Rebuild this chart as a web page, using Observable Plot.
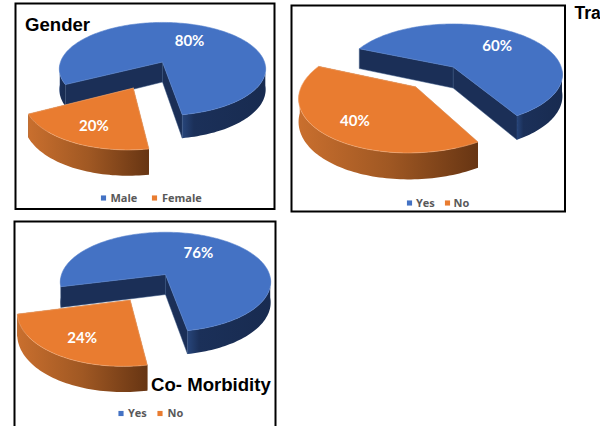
<!DOCTYPE html>
<html>
<head>
<meta charset="utf-8">
<script src="https://cdn.jsdelivr.net/npm/d3@7"></script>
<script src="https://cdn.jsdelivr.net/npm/@observablehq/plot@0.6"></script>
<style>
html,body{margin:0;padding:0;background:#fff;overflow:hidden}
#page{position:relative;width:600px;height:426px;overflow:hidden;background:#fff}
#page>div.c{position:absolute}
.t{position:absolute;font:bold 18.6px "Liberation Sans",Arial,sans-serif;color:#000;white-space:nowrap;line-height:1}
</style>
</head>
<body>
<div id="page"></div>
<script>
// ---- data ----
const genderLabels = ["Male", "Female"];
const genderValues = [80, 20];
const travelLabels = ["Yes", "No"];
const travelValues = [60, 40];
const morbidityLabels = ["Yes", "No"];
const morbidityValues = [76, 24];

// ---- layout / style ----
const colors = {top: ["#4472c4", "#e97c30"], rim: ["#5a84ce", "#f2ab78"], wall: ["#1b2f57", "#7a4216"]};
const K = 0.15; // perspective strength of the tilted disc
const charts = [
  {id: "g", labels: genderLabels, values: genderValues,
   frame: [15, 2.5, 274, 208], apex: [162, 61], rx: 102, ry: 45.5, depth: 20, start: 152.5, explode: 0.59, outerScale: 0.97,
   labelR: [0.62, 0.68], legendY: 197, legendX: [[103, 110], [154, 161.5]]},
  {id: "t", labels: travelLabels, values: travelValues,
   frame: [291, 4.5, 564.5, 210.5], apex: [452.7, 66], rx: 108, ry: 49.5, depth: 21, start: 203, explode: 0.5, outerScale: 1,
   labelR: [0.65, 0.71], legendY: 202, legendX: [[409, 415.5], [447, 453]]},
  {id: "m", labels: morbidityLabels, values: morbidityValues,
   frame: [14, 221, 275, 440], apex: [165, 274], rx: 104, ry: 48.6, depth: 20, start: 166, explode: 0.58, outerScale: 0.985,
   labelR: [0.61, 0.68], legendY: 413, legendX: [[120.5, 127.5], [159.5, 167]]}
];
const titles = [
  {text: "Gender", left: 25, top: 16},
  {text: "Tra", left: 574.5, top: 5, size: 17.5},
  {text: "Co- Morbidity", left: 151, top: 376}
];

const rad = d => d * Math.PI / 180;
// project a point of the unit disc into the tilted view
function proj(X, Y, down = 0) {
  const w = 1 - K * Y;
  return {x: X / w, y: Y / w + down / w};
}
function arcAngles(a, b) {
  const out = [], n = Math.max(2, Math.ceil((b - a) / 1.5));
  for (let i = 0; i <= n; i++) out.push(a + (b - a) * i / n);
  return out;
}

function drawChart(c, host) {
  const [l, t, r, b] = c.frame;
  const pad = 2;
  const W = r - l + pad * 2, H = b - t + pad * 2;
  const down = c.depth / c.ry;
  const total = d3.sum(c.values);
  let ang = c.start;
  const marks = [];
  const walls = [], sides = [], tops = [], labelRows = [];

  c.values.forEach((v, i) => {
    const sweep = v / total * 360;
    const a = ang, e = ang + sweep, mid = a + sweep / 2;
    ang = e;
    const ox = i === 0 ? 0 : c.explode * Math.cos(rad(mid));
    const oy = i === 0 ? 0 : c.explode * Math.sin(rad(mid));
    const s = i === 0 ? 1 : c.outerScale;
    const P = (th, dn = 0) => proj(ox + s * Math.cos(rad(th)), oy + s * Math.sin(rad(th)), dn);
    const O = (dn = 0) => proj(ox, oy, dn);

    // radial walls
    [a, e].forEach(th => walls.push({i, pts: [O(), P(th), P(th, down), O(down)]}));

    // outer rim: only the runs that face the viewer
    let run = [];
    const flush = () => {
      if (run.length > 1) {
        sides.push({i, pts: [...run.map(th => P(th)), ...run.slice().reverse().map(th => P(th, down))]});
      }
      run = [];
    };
    arcAngles(a, e).forEach(th => {
      if (Math.sin(rad(th)) > 0.05) run.push(th); else flush();
    });
    flush();

    // top face
    tops.push({i, pts: [O(), ...arcAngles(a, e).map(th => P(th))]});

    // percentage label
    const lr = c.labelR[i];
    const lp = proj(ox + lr * Math.cos(rad(mid)), oy + lr * Math.sin(rad(mid)));
    labelRows.push({x: lp.x, y: lp.y, text: v + "%"});
  });

  // gradients for the rims
  const defsMark = () => {
    const d = d3.create("svg:defs");
    const add = (id, stops) => {
      const g = d.append("linearGradient").attr("id", id).attr("x1", 0).attr("x2", 1).attr("y1", 0).attr("y2", 0);
      stops.forEach(([o, col]) => g.append("stop").attr("offset", o).attr("stop-color", col));
    };
    add(c.id + "g0", [[0, "#27457a"], [0.14, "#1b3059"], [1, "#182b50"]]);
    add(c.id + "g1", [[0, "#c96f2e"], [0.5, "#a05823"], [1, "#673513"]]);
    return d.node();
  };
  marks.push(defsMark);

  const poly = (o, fill, stroke, sw) => Plot.line([...o.pts, o.pts[0]], {
    x: "x", y: "y", fill, stroke, strokeWidth: sw, strokeLinejoin: "round", curve: "linear"
  });

  walls.forEach(o => marks.push(poly(o, colors.wall[o.i], o.i === 0 ? "#33507f" : "none", 0.5)));
  // first slice is painted fully before the exploded one
  [0, 1].forEach(i => {
    sides.filter(o => o.i === i).forEach(o => marks.push(poly(o, `url(#${c.id}g${i})`, "none", 0)));
    tops.filter(o => o.i === i).forEach(o => marks.push(poly(o, colors.top[i], colors.rim[i], 0.6)));
  });

  marks.push(Plot.text(labelRows, {
    x: "x", y: "y", text: "text", fill: "#fff", fontSize: 15, fontWeight: 700, dx: 1, dy: 2,
    fontFamily: "Lato, 'Open Sans', sans-serif"
  }));

  // legend
  const toX = px => (px - c.apex[0]) / c.rx;
  const toY = px => (px - c.apex[1]) / c.ry;
  const legend = c.labels.map((lab, i) => ({
    sx: toX(c.legendX[i][0]), tx: toX(c.legendX[i][1]), y: toY(c.legendY), lab, col: colors.top[i]
  }));
  marks.push(Plot.dot(legend, {x: "sx", y: "y", symbol: "square", r: 2.9, fill: "col", stroke: "none"}));
  marks.push(Plot.text(legend, {
    x: "tx", y: "y", text: "lab", textAnchor: "start", fill: "#595959", fontSize: 11, fontWeight: 700,
    fontFamily: "'Open Sans', sans-serif"
  }));
  marks.push(Plot.frame({stroke: "#000", strokeWidth: 2}));

  const svg = Plot.plot({
    width: W, height: H,
    marginTop: pad, marginBottom: pad, marginLeft: pad, marginRight: pad,
    x: {domain: [toX(l), toX(r)], axis: null},
    y: {domain: [toY(b), toY(t)], axis: null},
    marks
  });
  svg.style.display = "block";
  svg.style.background = "transparent";
  const div = document.createElement("div");
  div.className = "c";
  div.style.left = (l - pad) + "px";
  div.style.top = (t - pad) + "px";
  div.appendChild(svg);
  host.appendChild(div);
}

const page = document.getElementById("page");
charts.forEach(c => drawChart(c, page));
titles.forEach(tt => {
  const d = document.createElement("div");
  d.className = "t";
  d.textContent = tt.text;
  d.style.left = tt.left + "px";
  d.style.top = tt.top + "px";
  if (tt.size) d.style.fontSize = tt.size + "px";
  page.appendChild(d);
});
</script>
</body>
</html>
